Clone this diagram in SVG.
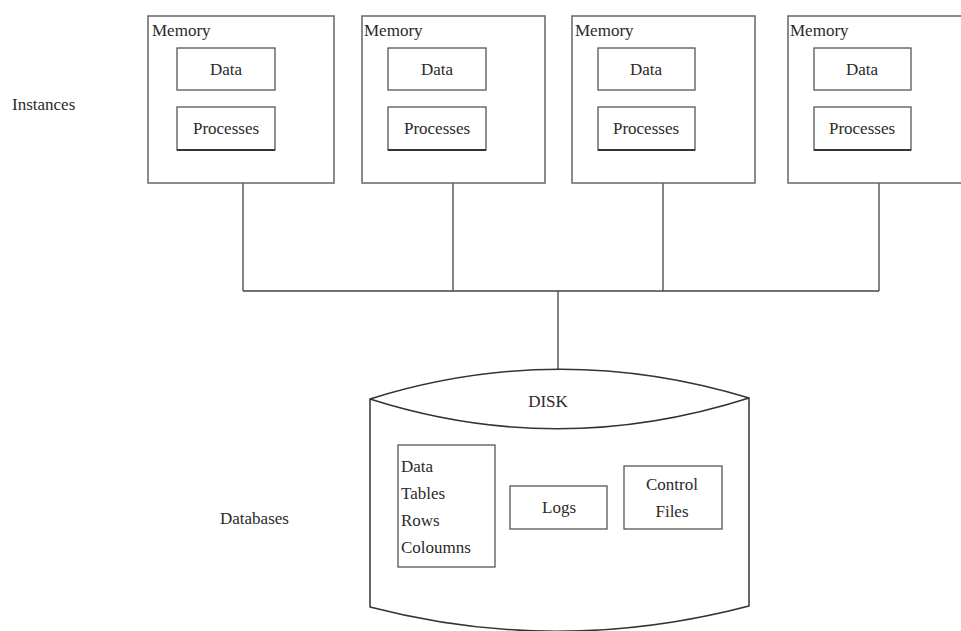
<svg xmlns="http://www.w3.org/2000/svg" width="961" height="631" viewBox="0 0 961 631" font-family="'Liberation Serif','DejaVu Serif',serif">
<style>
text{font-family:"Liberation Serif","DejaVu Serif",serif;font-size:17px;fill:#2a2a2a}
.box{fill:#fff;stroke:#666;stroke-width:1.5}
.inner{fill:#fff;stroke:#555;stroke-width:1.3}
.shadow{stroke:#333;stroke-width:2.2}
.conn{fill:none;stroke:#444;stroke-width:1.3}
.disk{fill:#fff;stroke:#333;stroke-width:1.5}
.m{text-anchor:middle}
</style>
<rect width="961" height="631" fill="#fff"/>
<text x="12" y="110">Instances</text>
<text x="220" y="524">Databases</text>
<g id="conn">
<path class="conn" d="M243,183V291M453,183V291M663,183V291M879,183V291M243,291H879M558,291V370"/>
</g>
<g id="inst1">
<rect class="box" x="148" y="16" width="186" height="167"/>
<text x="152" y="36">Memory</text>
<rect class="inner" x="177" y="48" width="98" height="42"/>
<text class="m" x="226" y="75">Data</text>
<rect class="inner" x="177" y="107" width="98" height="43"/>
<line class="shadow" x1="177" y1="150" x2="275" y2="150"/>
<text class="m" x="226" y="134">Processes</text>
</g>
<g id="inst2">
<rect class="box" x="362" y="16" width="183" height="167"/>
<text x="364" y="36">Memory</text>
<rect class="inner" x="388" y="48" width="98" height="42"/>
<text class="m" x="437" y="75">Data</text>
<rect class="inner" x="388" y="107" width="98" height="43"/>
<line class="shadow" x1="388" y1="150" x2="486" y2="150"/>
<text class="m" x="437" y="134">Processes</text>
</g>
<g id="inst3">
<rect class="box" x="572" y="16" width="183" height="167"/>
<text x="575" y="36">Memory</text>
<rect class="inner" x="598" y="48" width="97" height="42"/>
<text class="m" x="646" y="75">Data</text>
<rect class="inner" x="598" y="107" width="97" height="43"/>
<line class="shadow" x1="598" y1="150" x2="695" y2="150"/>
<text class="m" x="646" y="134">Processes</text>
</g>
<g id="inst4">
<rect class="box" x="788" y="16" width="190" height="167"/>
<text x="790" y="36">Memory</text>
<rect class="inner" x="814" y="48" width="97" height="42"/>
<text class="m" x="862" y="75">Data</text>
<rect class="inner" x="814" y="107" width="97" height="43"/>
<line class="shadow" x1="814" y1="150" x2="911" y2="150"/>
<text class="m" x="862" y="134">Processes</text>
</g>
<g id="disk">
<path class="disk" d="M370,399Q558,340 749,398V606Q558,656 370,607Z"/>
<path class="disk" d="M370,399Q558,459 749,398"/>
<text class="m" x="548" y="407">DISK</text>
<rect class="inner" x="398" y="445" width="97" height="122"/>
<text x="401" y="472">Data</text>
<text x="401" y="499">Tables</text>
<text x="401" y="526">Rows</text>
<text x="401" y="553">Coloumns</text>
<rect class="inner" x="510" y="486" width="97" height="43"/>
<text class="m" x="559" y="513">Logs</text>
<rect class="inner" x="624" y="466" width="98" height="63"/>
<text class="m" x="672" y="490">Control</text>
<text class="m" x="672" y="517">Files</text>
</g>
</svg>
